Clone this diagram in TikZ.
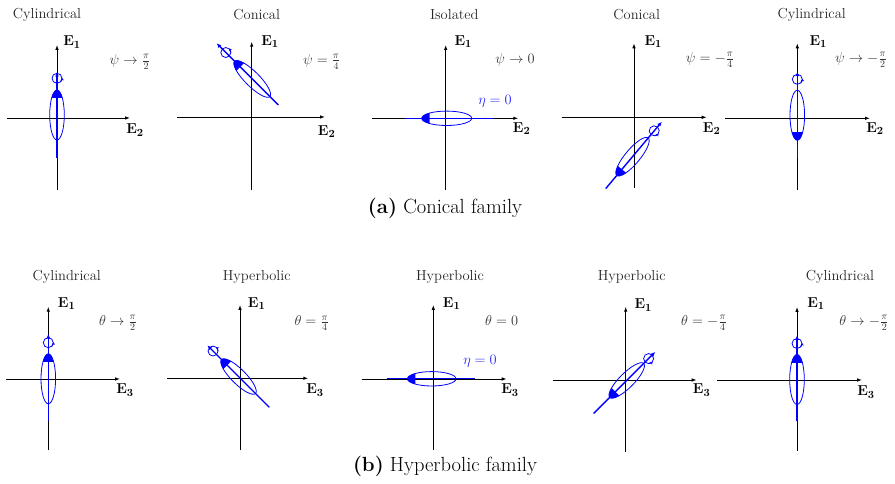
\documentclass[tikz,border=0pt]{standalone}
\usetikzlibrary{arrows.meta}
\tikzset{
  axis/.style={line width=0.9pt, -{Latex[length=5pt,width=3.6pt]}},
  bline/.style={blue, line width=1.4pt},
  barrow/.style={blue, line width=1.4pt, -{Latex[length=4.5pt,width=4pt]}},
  ellstyle/.style={blue, line width=0.8pt},
  circ/.style={blue, line width=0.8pt},
  circtip/.style={blue, line width=0.8pt, -{Stealth[length=2.6pt,width=3.2pt]}},
  ttl/.style={font=\fontsize{14.5}{17}\selectfont, text=black!85},
  lab/.style={font=\fontsize{15}{18}\selectfont},
  ang/.style={font=\fontsize{14.5}{17}\selectfont, text=black!80},
  eta/.style={font=\fontsize{15}{18}\selectfont, text=blue!85},
  captext/.style={font=\fontsize{20.5}{24}\selectfont}
}
\newcommand{\myaxes}[7]{%
  \coordinate (#1o) at (#2,#3);
  \coordinate (#1b) at (#2,#4); \coordinate (#1t) at (#2,#5);
  \coordinate (#1l) at (#6,#3); \coordinate (#1r) at (#7,#3);
  \draw[axis] (#1b) -- (#1t);
  \draw[axis] (#1l) -- (#1r);}
\newcommand{\ellcap}[3]{%
  \draw[ellstyle] (0,0) ellipse[x radius=#1, y radius=#3];
  \begin{scope}
    \clip ({#2*(#1-8)},-10) rectangle ({#2*(#1+3)},10);
    \fill[blue] (0,0) ellipse[x radius=#1, y radius=#3];
  \end{scope}}
\newcommand{\rotcirc}[1]{%
  \draw[circ] (#1,0) circle[radius=5];
  \draw[circtip] (#1,0) ++(225:5) arc[start angle=225, end angle=275, radius=5];}
% id, Cx, Cy, phi, Lm, Lp, tc, capsign, a
\newcommand{\mystruct}[9]{%
  \begin{scope}[shift={(#2,#3)}, rotate=#4]
    \coordinate (#1s) at (-#5,0);
    \coordinate (#1e) at (#6,0);
    \draw[barrow] (#1s) -- (#1e);
    \ellcap{#9}{#8}{7.3}
    \rotcirc{#7}
  \end{scope}}
\begin{document}
\begin{tikzpicture}[x=1pt,y=1pt]
\useasboundingbox (0,0) rectangle (895,484);

% ---------------- top row: conical family ----------------
% P1
\myaxes{pa}{57}{366}{294}{439}{7}{130}
\mystruct{sa}{57}{369}{90}{43}{43}{36.7}{1}{25}
\node[ttl] (ta) at (47,469) {Cylindrical};
\node[lab] (ea1) at (72,442) {$\mathbf{E_1}$};
\node[lab] (ea2) at (135,354) {$\mathbf{E_2}$};
\node[ang] (aa) at (130,422) {$\psi\to\frac{\pi}{2}$};

% P2
\myaxes{pb}{251.7}{367}{294}{442.3}{177.3}{325}
\mystruct{sb}{252.2}{405.1}{135}{36.9}{50.3}{37.3}{1}{25}
\node[ttl] (tb) at (256.7,469) {Conical};
\node[lab] (eb1) at (270,442.3) {$\mathbf{E_1}$};
\node[lab] (eb2) at (326.7,352.3) {$\mathbf{E_2}$};
\node[ang] (ab) at (321.7,422.3) {$\psi=\frac{\pi}{4}$};

% P3
\myaxes{pc}{445.7}{365.7}{294}{439}{371.7}{518.3}
\begin{scope}[shift={(446.7,365.7)}]
  \coordinate (scs) at (-41.7,0);
  \coordinate (sce) at (46.6,0);
  \draw[bline] (scs) -- (sce);
  \ellcap{25}{-1}{7.2}
\end{scope}
\node[ttl] (tc) at (454.3,469) {Isolated};
\node[lab] (ec1) at (463.3,442.3) {$\mathbf{E_1}$};
\node[lab] (ec2) at (521.7,355.7) {$\mathbf{E_2}$};
\node[ang] (ac) at (515,424) {$\psi\to0$};
\node[eta] (hc) at (495,382.3) {$\eta=0$};

% P4
\myaxes{pd}{634}{366.7}{295.7}{440.7}{561.7}{706.7}
\mystruct{sd}{632.5}{327.3}{50}{41.6}{45.6}{33.8}{-1}{24.5}
\node[ttl] (td) at (636.7,469) {Conical};
\node[lab] (ed1) at (653.3,442.3) {$\mathbf{E_1}$};
\node[lab] (ed2) at (711.7,355.7) {$\mathbf{E_2}$};
\node[ang] (ad) at (710,424) {$\psi=-\frac{\pi}{4}$};

% P5
\myaxes{pe}{797.3}{365.7}{294}{440.7}{725}{870}
\mystruct{se}{797.3}{368.7}{90}{43}{43.6}{36}{-1}{25}
\node[ttl] (te) at (811.7,469) {Cylindrical};
\node[lab] (ee1) at (818.3,442.3) {$\mathbf{E_1}$};
\node[lab] (ee2) at (875,355.7) {$\mathbf{E_2}$};
\node[ang] (ae) at (861,424) {$\psi\to-\frac{\pi}{2}$};

\node[captext] (capa) at (445,276) {\textbf{(a)} Conical family};

% ---------------- bottom row: hyperbolic family ----------------
% b1
\myaxes{qa}{48.3}{105}{34}{177.3}{6}{120}
\mystruct{ua}{48.3}{105.2}{90}{42.2}{44.8}{36.1}{1}{25}
\node[ttl] (tqa) at (66.7,207.3) {Cylindrical};
\node[lab] (fa1) at (66.7,180.7) {$\mathbf{E_1}$};
\node[lab] (fa3) at (125,94) {$\mathbf{E_3}$};
\node[ang] (ba) at (118,161) {$\theta\to\frac{\pi}{2}$};

% b2
\myaxes{qb}{240}{105.7}{34}{179}{167.3}{308.3}
\mystruct{ub}{238.5}{107.5}{135}{43.6}{44}{36}{1}{24}
\node[ttl] (tqb) at (256.7,207.3) {Hyperbolic};
\node[lab] (fb1) at (256.7,180.7) {$\mathbf{E_1}$};
\node[lab] (fb3) at (315,94) {$\mathbf{E_3}$};
\node[ang] (bb) at (311.7,160.7) {$\theta=\frac{\pi}{4}$};

% b3
\myaxes{qc}{433.3}{105}{34}{179}{361.7}{506.7}
\begin{scope}[shift={(431.7,105.2)}]
  \coordinate (ucs) at (-45,0);
  \coordinate (uce) at (43.3,0);
  \draw[bline] (ucs) -- (uce);
  \ellcap{24.3}{-1}{7.2}
\end{scope}
\node[ttl] (tqc) at (450,207.3) {Hyperbolic};
\node[lab] (fc1) at (451.7,180.7) {$\mathbf{E_1}$};
\node[lab] (fc3) at (510,94) {$\mathbf{E_3}$};
\node[ang] (bc) at (501.7,163.3) {$\theta=0$};
\node[eta] (hqc) at (480,122.3) {$\eta=0$};

% b4
\myaxes{qd}{625.7}{104}{32.3}{177.3}{553.3}{696.7}
\mystruct{ud}{626.7}{103.5}{45}{46.8}{40.4}{31}{-1}{24}
\node[ttl] (tqd) at (631.7,207.3) {Hyperbolic};
\node[lab] (fd1) at (643.3,179) {$\mathbf{E_1}$};
\node[lab] (fd3) at (701.7,94) {$\mathbf{E_3}$};
\node[ang] (bd) at (704,161) {$\theta=-\frac{\pi}{4}$};

% b5
\myaxes{qe}{797}{104}{33}{177}{717}{862}
\mystruct{ue}{797}{104.5}{90}{42}{44}{36}{1}{25}
\node[ttl] (tqe) at (840,207.3) {Cylindrical};
\node[lab] (fe1) at (816,180.7) {$\mathbf{E_1}$};
\node[lab] (fe3) at (866,92) {$\mathbf{E_3}$};
\node[ang] (be) at (864,161) {$\theta\to-\frac{\pi}{2}$};

\node[captext] (capb) at (445,18) {\textbf{(b)} Hyperbolic family};
\end{tikzpicture}
\end{document}
